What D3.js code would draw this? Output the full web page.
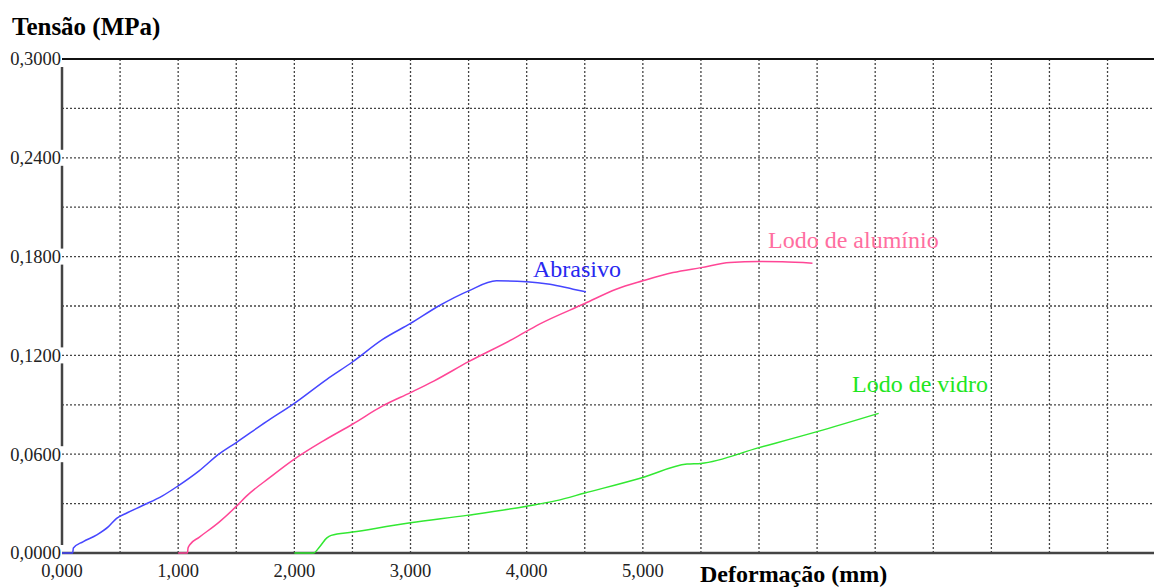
<!DOCTYPE html>
<html>
<head>
<meta charset="utf-8">
<script src="https://cdn.jsdelivr.net/npm/d3@7"></script>
<style>
  body { margin: 0; background: #fff; }
  svg { display: block; }
  text { font-family: "Liberation Serif", "Times New Roman", Times, serif; }
</style>
</head>
<body>
<script>
// tick values
const yTicks = [0, 0.06, 0.12, 0.18, 0.24, 0.30];
const yGrid = [0.03, 0.06, 0.09, 0.12, 0.15, 0.18, 0.21, 0.24, 0.27];
const xTicks = [0, 1, 2, 3, 4, 5];
const xGrid = [0.5, 1, 1.5, 2, 2.5, 3, 3.5, 4, 4.5, 5, 5.5, 6, 6.5, 7, 7.5, 8, 8.5, 9];

// Abrasivo
const abrX = [0, 0.092, 0.098, 0.18, 0.30, 0.40, 0.47, 0.55, 0.69, 0.865, 1.0, 1.18, 1.35, 1.5, 1.76, 2.0, 2.28, 2.5, 2.76, 3.0, 3.25, 3.5, 3.74, 4.0, 4.2, 4.4, 4.51];
const abrY = [0, 0, 0.003, 0.0068, 0.011, 0.016, 0.021, 0.024, 0.0287, 0.0347, 0.0408, 0.0499, 0.0600, 0.0671, 0.0798, 0.0909, 0.1055, 0.116, 0.1297, 0.1394, 0.1503, 0.1592, 0.1653, 0.1648, 0.1632, 0.1602, 0.1586];

// Lodo de aluminio
const aluX = [1.0, 1.08, 1.085, 1.1, 1.18, 1.35, 1.5, 1.59, 1.79, 2.0, 2.25, 2.5, 2.76, 3.0, 3.2, 3.5, 3.88, 4.11, 4.5, 4.77, 5.0, 5.26, 5.5, 5.75, 6.0, 6.2, 6.46];
const aluY = [0, 0, 0.003, 0.005, 0.0095, 0.0186, 0.0283, 0.0347, 0.0459, 0.057, 0.0681, 0.0782, 0.0893, 0.0974, 0.1044, 0.1162, 0.1299, 0.139, 0.1515, 0.1602, 0.1653, 0.1703, 0.1733, 0.1764, 0.177, 0.1768, 0.176];

// Lodo de vidro
const vidX = [2.0, 2.163, 2.22, 2.28, 2.317, 2.5, 3.0, 3.5, 4.0, 4.256, 4.5, 5.0, 5.38, 5.5, 6.0, 6.5, 7.03];
const vidY = [0, 0, 0.004, 0.0092, 0.0107, 0.0127, 0.0183, 0.023, 0.0284, 0.0318, 0.0364, 0.0459, 0.054, 0.0544, 0.064, 0.0737, 0.0848];

const series = [
  { name: "Abrasivo", xs: abrX, ys: abrY, color: "rgb(70,70,255)", text: "rgb(40,40,240)", lx: 533, ly: 277 },
  { name: "Lodo de alumínio", xs: aluX, ys: aluY, color: "rgb(255,70,150)", text: "rgb(255,110,160)", lx: 768, ly: 248 },
  { name: "Lodo de vidro", xs: vidX, ys: vidY, color: "rgb(50,232,50)", text: "rgb(30,230,30)", lx: 852, ly: 392 }
];

const w = 1154, h = 587;
const mLeft = 62, mTop = 59, mBottom = 553;

const x = d3.scaleLinear().domain([0, 9.4]).range([mLeft, w]);
const y = d3.scaleLinear().domain([0, 0.3]).range([mBottom, mTop]);

const pt = d3.formatLocale({ decimal: ",", thousands: ".", grouping: [3], currency: ["", ""] });
const fy = pt.format(".4f"), fx = pt.format(".3f");

const svg = d3.select("body").append("svg")
  .attr("width", w)
  .attr("height", h);

// left axis line with breaks at labels
svg.append("line")
  .attr("x1", mLeft).attr("x2", mLeft)
  .attr("y1", mTop).attr("y2", mBottom)
  .attr("stroke", "#444").attr("stroke-width", 2.5);
svg.selectAll(".gap").data(yTicks).enter().append("rect")
  .attr("x", mLeft - 3).attr("width", 6)
  .attr("y", d => y(d) - 8).attr("height", 16)
  .attr("fill", "#fff");

// grid
svg.selectAll(".hg").data(yGrid).enter().append("line")
  .attr("x1", mLeft).attr("x2", w)
  .attr("y1", d => y(d)).attr("y2", d => y(d))
  .attr("stroke", "#444").attr("stroke-width", 1.3)
  .attr("stroke-dasharray", "2,2");
svg.selectAll(".vg").data(xGrid).enter().append("line")
  .attr("x1", d => x(d)).attr("x2", d => x(d))
  .attr("y1", mTop).attr("y2", mBottom)
  .attr("stroke", "#444").attr("stroke-width", 1.3)
  .attr("stroke-dasharray", "2,2");

// top and bottom frame lines
svg.append("line")
  .attr("x1", mLeft).attr("x2", w).attr("y1", mTop).attr("y2", mTop)
  .attr("stroke", "#111").attr("stroke-width", 2);
svg.append("line")
  .attr("x1", mLeft).attr("x2", w).attr("y1", mBottom).attr("y2", mBottom)
  .attr("stroke", "#444").attr("stroke-width", 2.5);

// tick labels
svg.selectAll(".yl").data(yTicks).enter().append("text")
  .attr("x", mLeft - 1).attr("y", d => y(d))
  .attr("dy", "0.35em")
  .attr("text-anchor", "end")
  .attr("font-size", 18.5)
  .attr("fill", "#222")
  .text(d => fy(d));
svg.selectAll(".xl").data(xTicks).enter().append("text")
  .attr("x", d => x(d)).attr("y", 577)
  .attr("text-anchor", "middle")
  .attr("font-size", 18.5)
  .attr("fill", "#222")
  .text(d => fx(d));

// axis titles
svg.append("text")
  .attr("x", 12).attr("y", 35)
  .attr("font-size", 25).attr("font-weight", "bold")
  .text("Tensão (MPa)");
svg.append("text")
  .attr("x", 700).attr("y", 582)
  .attr("font-size", 24).attr("font-weight", "bold")
  .text("Deformação (mm)");

// curves
const line = d3.line()
  .curve(d3.curveMonotoneX)
  .x(d => x(d[0]))
  .y(d => y(d[1]));

series.forEach(s => {
  const pts = s.xs.map((v, i) => [v, s.ys[i]]);
  svg.append("path")
    .datum(pts)
    .attr("d", line)
    .attr("fill", "none")
    .attr("stroke", s.color)
    .attr("stroke-width", 1.5)
    .attr("stroke-linejoin", "round");
  svg.append("text")
    .attr("x", s.lx).attr("y", s.ly)
    .attr("font-size", 24)
    .attr("fill", s.text)
    .text(s.name);
});
</script>
</body>
</html>
